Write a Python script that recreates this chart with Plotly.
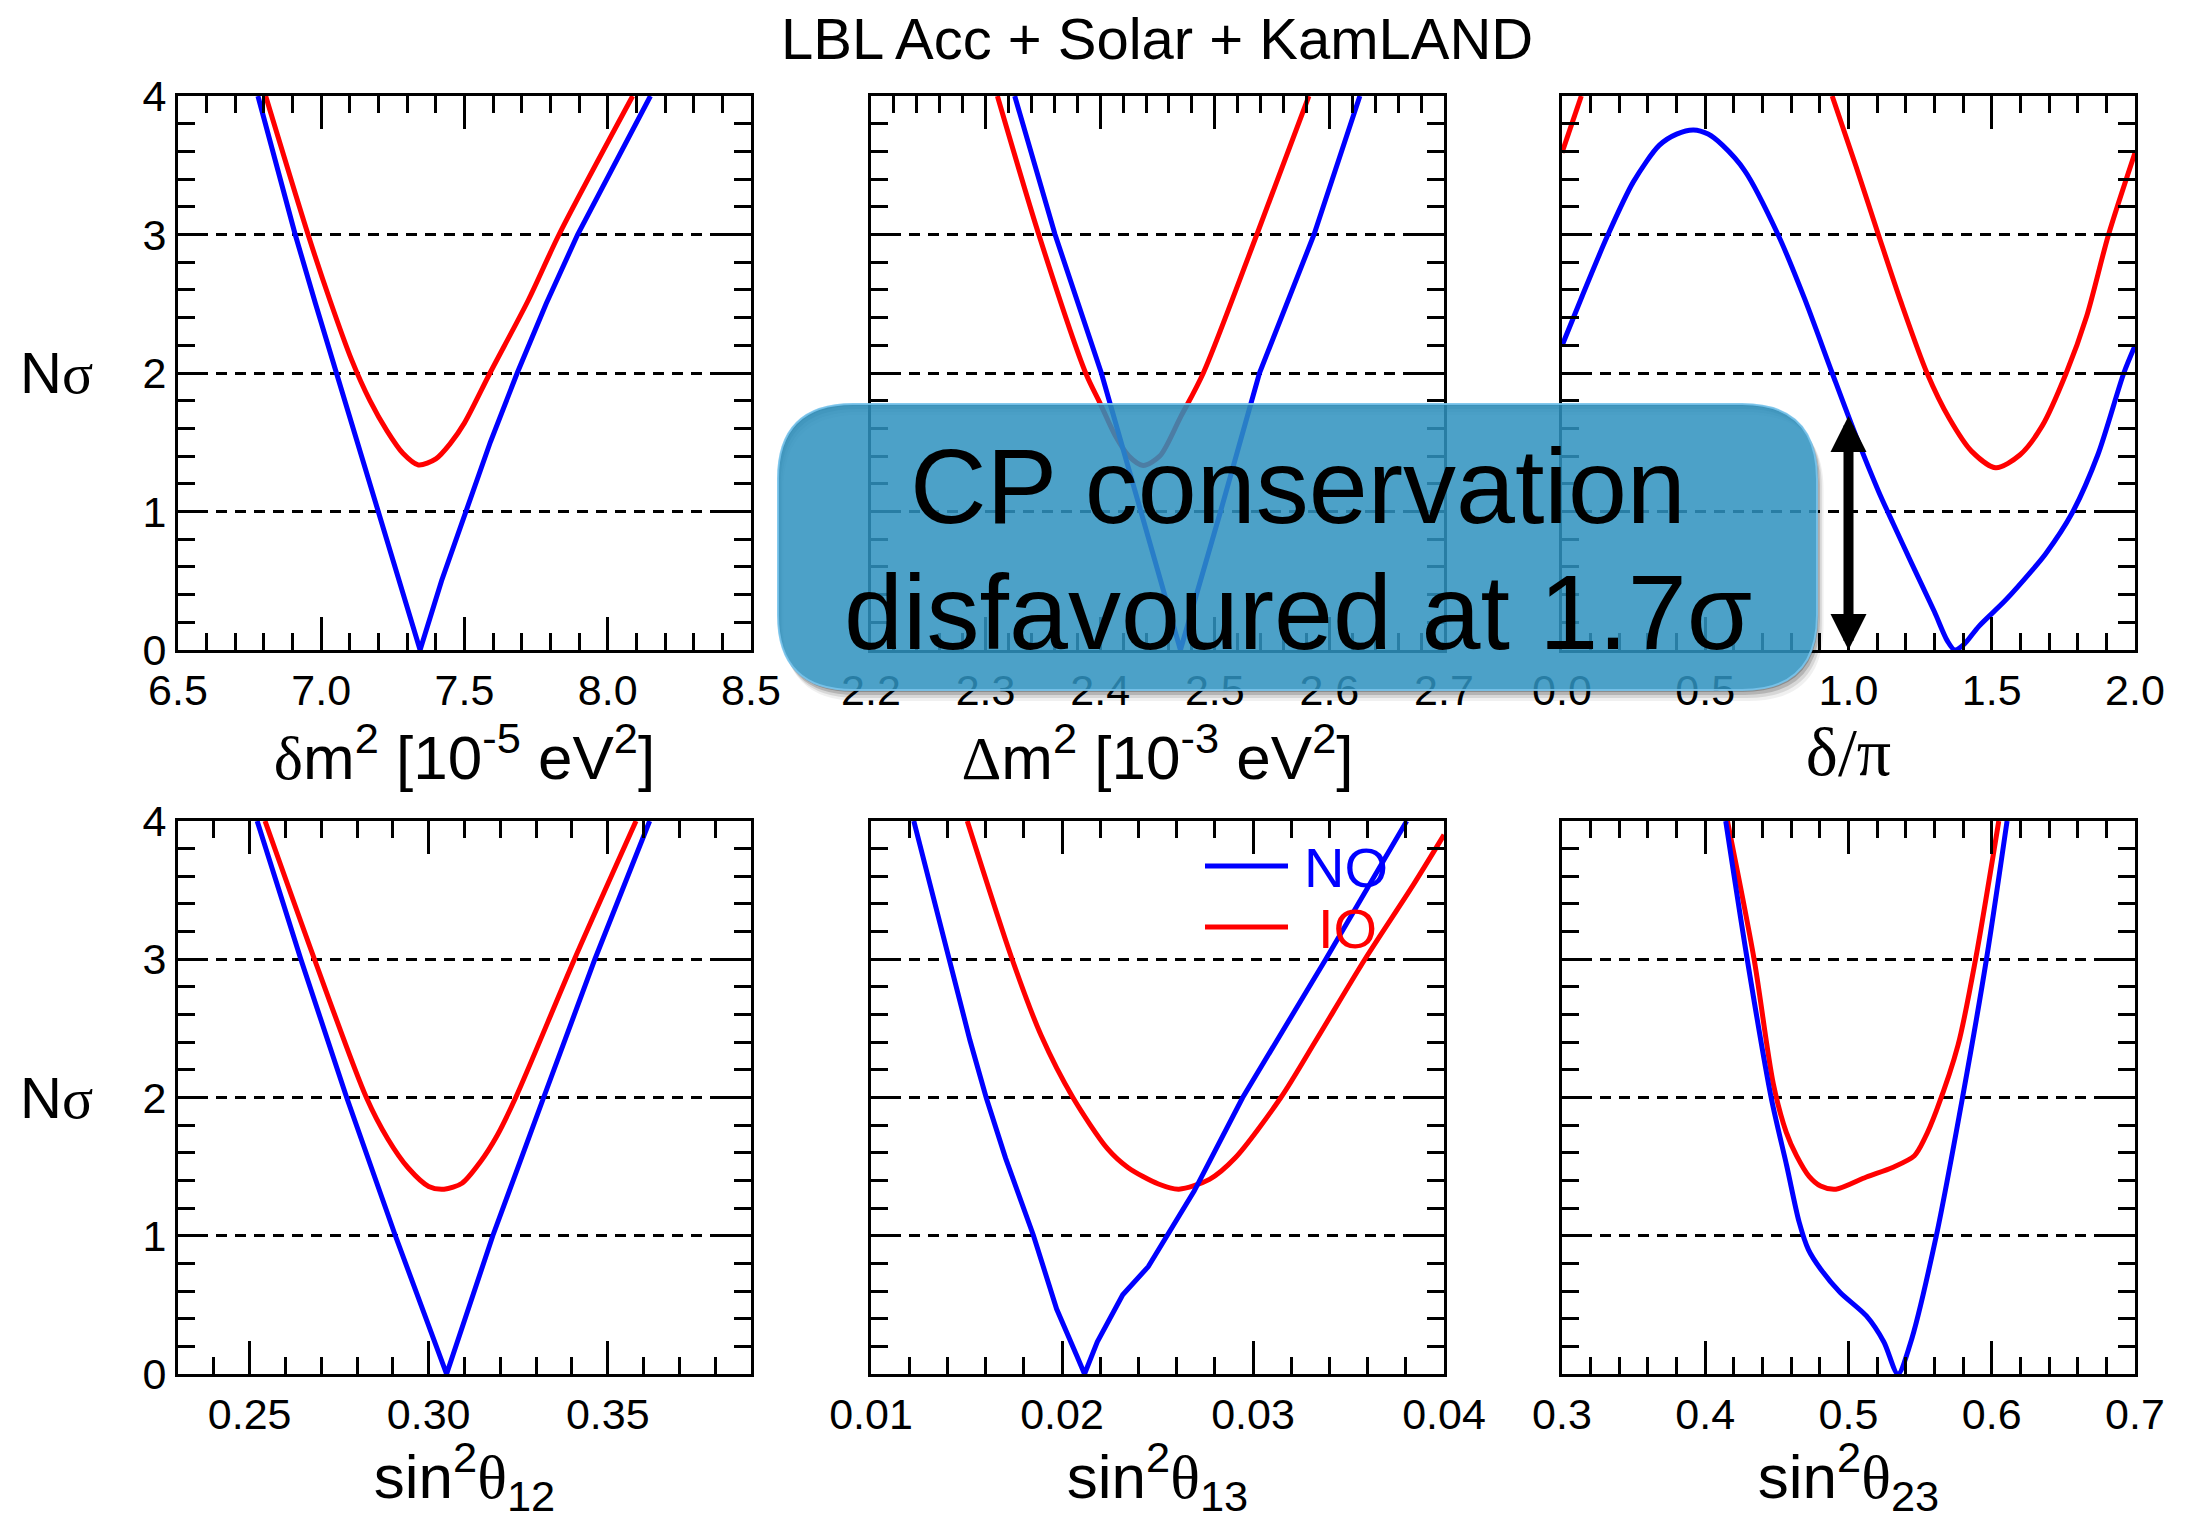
import plotly.graph_objects as go

W, H = 2185, 1520

# ---------------- data ----------------
# delta m^2_21 [1e-5 eV^2]
dm21_no_x = [6.779, 6.845, 6.909, 6.980, 7.053, 7.125, 7.196, 7.270, 7.345, 7.420, 7.504, 7.590, 7.684,
             7.785, 7.895, 8.020, 8.149]
dm21_no_y = [4.0, 3.5, 3.0, 2.5, 2.0, 1.5, 1.0, 0.5, 0.0, 0.5, 1.0, 1.5, 2.0,
             2.5, 3.0, 3.5, 4.0]
dm21_io_x = [6.806, 6.954, 7.030, 7.105, 7.170, 7.230, 7.285, 7.339, 7.400, 7.450, 7.500, 7.589, 7.723,
             7.830, 8.087]
dm21_io_y = [4.0, 3.0, 2.527, 2.1, 1.8, 1.58, 1.42, 1.336, 1.38, 1.49, 1.64, 2.0, 2.527,
             3.0, 4.0]

# Delta m^2 [1e-3 eV^2]
dm31_no_x = [2.3254, 2.3606, 2.401, 2.436, 2.470, 2.505, 2.539, 2.5866, 2.6266]
dm31_no_y = [4.0, 3.0, 2.0, 1.0, 0.0, 1.0, 2.0, 3.0, 4.0]
dm31_io_x = [2.3103, 2.3464, 2.3873, 2.400, 2.413, 2.425, 2.4375, 2.452, 2.470, 2.490, 2.5367, 2.5821]
dm31_io_y = [4.0, 3.0, 2.0, 1.78, 1.55, 1.40, 1.333, 1.40, 1.68, 2.0, 3.0, 4.0]

# delta_CP / pi
dcp_no_x = [0.0, 0.0674, 0.158, 0.249, 0.34, 0.40, 0.459, 0.51, 0.56, 0.638, 0.755, 0.846, 0.943,
            1.027, 1.105, 1.157, 1.222, 1.30, 1.345, 1.371, 1.403, 1.455, 1.546, 1.637, 1.689,
            1.78, 1.87, 1.961, 2.0]
dcp_no_y = [2.197, 2.54, 2.987, 3.38, 3.645, 3.725, 3.755, 3.725, 3.645, 3.46, 2.995, 2.54, 2.0,
            1.54, 1.145, 0.908, 0.618, 0.276, 0.066, 0.0, 0.04, 0.171, 0.355, 0.566, 0.697,
            0.987, 1.408, 2.0, 2.197]
dcp_io_x = [0.0, 0.0674, None, 0.943, 1.027, 1.105, 1.183, 1.274, 1.352, 1.43, 1.514, 1.598,
            1.676, 1.76, 1.831, 1.907, 2.0]
dcp_io_y = [3.59, 4.0, None, 4.0, 3.487, 2.995, 2.513, 2.0, 1.671, 1.434, 1.316, 1.408,
            1.618, 2.0, 2.408, 2.995, 3.59]

# sin^2 theta_12
s12_no_x = [0.2521, 0.2643, 0.2771, 0.2907, 0.305, 0.3179, 0.3321, 0.3464, 0.3617]
s12_no_y = [4.0, 3.0, 2.0, 1.0, 0.0, 1.0, 2.0, 3.0, 4.0]
s12_io_x = [0.2543, 0.2681, 0.2826, 0.2886, 0.2943, 0.300, 0.3043, 0.3093, 0.3143, 0.319, 0.3243, 0.3407, 0.3579]
s12_io_y = [4.0, 3.0, 2.0, 1.70, 1.49, 1.357, 1.337, 1.38, 1.53, 1.72, 2.0, 3.0, 4.0]

# sin^2 theta_13
s13_no_x = [0.01224, 0.01411, 0.01518, 0.01603, 0.01705, 0.01851, 0.01972, 0.02078, 0.02118, 0.02185,
            0.02318, 0.02452, 0.02553, 0.02692, 0.02946, 0.03381, 0.03805]
s13_no_y = [4.0, 3.0, 2.414, 2.0, 1.56, 1.0, 0.47, 0.13, 0.0, 0.232,
            0.573, 0.777, 1.0, 1.323, 2.0, 3.0, 4.0]
s13_io_x = [0.01504, 0.01739, 0.01891, 0.02057, 0.02238, 0.02345, 0.02505, 0.02612, 0.02772, 0.02906,
            0.03146, 0.0333, 0.03586, 0.0384, 0.04]
s13_io_y = [4.0, 3.0, 2.448, 2.0, 1.63, 1.494, 1.374, 1.337, 1.408, 1.562,
            2.0, 2.414, 3.0, 3.54, 3.9]

# sin^2 theta_23
s23_no_x = [0.4143, 0.4293, 0.446, 0.457, 0.4655, 0.472, 0.4805, 0.4942, 0.5125, 0.5247, 0.5345, 0.543,
            0.5613, 0.5796, 0.5963, 0.6107]
s23_no_y = [4.0, 3.0, 2.0, 1.5, 1.1, 0.9, 0.76, 0.59, 0.42, 0.232, 0.0, 0.215,
            1.0, 2.0, 3.0, 4.0]
s23_io_x = [0.4155, 0.4341, 0.4475, 0.4565, 0.4637, 0.4725, 0.4805, 0.4912, 0.5125, 0.5308, 0.546,
            0.553, 0.5613, 0.5765, 0.5887, 0.6049]
s23_io_y = [4.0, 3.0, 2.1, 1.75, 1.58, 1.43, 1.36, 1.337, 1.425, 1.494, 1.579,
            1.70, 1.903, 2.38, 3.0, 4.0]

# CP-conservation significance arrow (delta/pi = 1, from 0 to 1.7 sigma)
cp_delta = 1.0
cp_sigma = 1.7

y_range = [0, 4]

# ---------------- styling ----------------
SANS = "Liberation Sans, Arial, Helvetica, sans-serif"
BLUE = "#0000FF"
RED = "#FF0000"
LW = 5


def g(ch, size=None):
    st = "font-family:Liberation Serif"
    if size:
        st += ";font-size:%dpx" % size
    return "<span style='" + st + "'>" + ch + "</span>"


panels = [
    dict(no=(dm21_no_x, dm21_no_y), io=(dm21_io_x, dm21_io_y), rng=[6.5, 8.5], tick0=6.5, dtick=0.5,
         minor=0.1, fmt=".1f", title=g("δ") + "m<sup>2</sup> [10<sup>-5</sup> eV<sup>2</sup>]",
         shape_no="linear", shape_io="spline"),
    dict(no=(dm31_no_x, dm31_no_y), io=(dm31_io_x, dm31_io_y), rng=[2.2, 2.7], tick0=2.2, dtick=0.1,
         minor=0.02, fmt=".1f", title=g("Δ") + "m<sup>2</sup> [10<sup>-3</sup> eV<sup>2</sup>]",
         shape_no="linear", shape_io="spline"),
    dict(no=(dcp_no_x, dcp_no_y), io=(dcp_io_x, dcp_io_y), rng=[0, 2], tick0=0, dtick=0.5,
         minor=0.1, fmt=".1f", title=g("δ/π", 68), shape_no="spline", shape_io="spline"),
    dict(no=(s12_no_x, s12_no_y), io=(s12_io_x, s12_io_y), rng=[0.23, 0.39], tick0=0.25, dtick=0.05,
         minor=0.01, fmt=".2f", title="sin<sup>2</sup>" + g("θ") + "<sub>12</sub>",
         shape_no="linear", shape_io="spline"),
    dict(no=(s13_no_x, s13_no_y), io=(s13_io_x, s13_io_y), rng=[0.01, 0.04], tick0=0.01, dtick=0.01,
         minor=0.002, fmt=".2f", title="sin<sup>2</sup>" + g("θ") + "<sub>13</sub>",
         shape_no="linear", shape_io="spline"),
    dict(no=(s23_no_x, s23_no_y), io=(s23_io_x, s23_io_y), rng=[0.3, 0.7], tick0=0.3, dtick=0.1,
         minor=0.02, fmt=".1f", title="sin<sup>2</sup>" + g("θ") + "<sub>23</sub>",
         shape_no="spline", shape_io="spline"),
]

col_px = [(178, 751), (871, 1444), (1562, 2135)]
row_px = [(96, 650), (821, 1374)]

fig = go.Figure()
layout = dict(
    width=W, height=H, margin=dict(l=0, r=0, t=0, b=0, pad=0, autoexpand=False),
    paper_bgcolor="white", plot_bgcolor="white", showlegend=False,
    font=dict(family=SANS, color="black"),
)

for i, p in enumerate(panels):
    k = i + 1
    r, c = divmod(i, 3)
    xs = "" if k == 1 else str(k)
    x0, x1 = col_px[c]
    yt, yb = row_px[r]
    for (xx, yy), col, shp in [(p["io"], RED, p["shape_io"]), (p["no"], BLUE, p["shape_no"])]:
        fig.add_trace(go.Scatter(
            x=xx, y=yy, mode="lines", xaxis="x" + xs, yaxis="y" + xs,
            line=dict(color=col, width=LW, shape=shp, smoothing=0.8),
            hoverinfo="skip"))
    layout["xaxis" + xs] = dict(
        domain=[x0 / W, x1 / W], anchor="y" + xs, range=p["rng"], automargin=False,
        tick0=p["tick0"], dtick=p["dtick"], tickformat=p["fmt"],
        ticks="inside", ticklen=33, tickwidth=3, tickcolor="black",
        minor=dict(ticks="inside", ticklen=17, tickwidth=3, tickcolor="black", dtick=p["minor"],
                   tick0=p["tick0"], showgrid=False),
        showline=True, linewidth=3, linecolor="black", mirror="allticks",
        showgrid=False, zeroline=False,
        tickfont=dict(family=SANS, size=43, color="black"),
        title=dict(text=p["title"], font=dict(family=SANS, size=62, color="black"), standoff=12),
    )
    layout["yaxis" + xs] = dict(
        domain=[1 - yb / H, 1 - yt / H], anchor="x" + xs, range=y_range, automargin=False,
        tick0=0, dtick=1, ticks="inside", ticklen=30, tickwidth=3, tickcolor="black",
        minor=dict(ticks="inside", ticklen=17, tickwidth=3, tickcolor="black", dtick=0.2, showgrid=False),
        showline=True, linewidth=3, linecolor="black", mirror="allticks",
        showgrid=True, gridcolor="black", gridwidth=2.8, griddash="11px,8px",
        zeroline=False, showticklabels=(c == 0),
        tickfont=dict(family=SANS, size=43, color="black"),
    )

annotations = []
# main title
annotations.append(dict(text="LBL Acc + Solar + KamLAND", x=1157 / W, y=1 - 38 / H, xref="paper", yref="paper",
                        showarrow=False, xanchor="center", yanchor="middle",
                        font=dict(family=SANS, size=58, color="black")))
# y labels
for yc in [373, 1098]:
    annotations.append(dict(text="N" + g("σ"), x=56 / W, y=1 - yc / H, xref="paper", yref="paper",
                            showarrow=False, xanchor="center", yanchor="middle",
                            font=dict(family=SANS, size=58, color="black")))

# legend (manual, inside bottom-middle panel)
shapes = []
for lab, col, yc, tx in [("NO", BLUE, 866, 1302), ("IO", RED, 927, 1316)]:
    shapes.append(dict(type="line", xref="paper", yref="paper", x0=1205 / W, x1=1288 / W,
                       y0=1 - yc / H, y1=1 - yc / H, line=dict(color=col, width=LW), layer="above"))
    annotations.append(dict(text=lab, x=tx / W, y=1 - (yc + 1) / H, xref="paper", yref="paper",
                            showarrow=False, xanchor="left", yanchor="middle",
                            font=dict(family=SANS, size=56, color=col)))

# rounded call-out box with shadow
bx0, bx1, byt, byb, rad = 778, 1817, 404, 690, 75


def corners(x0, x1, yt, yb, rr):
    X0, X1 = x0 / W, x1 / W
    YT, YB = 1 - yt / H, 1 - yb / H
    rx, ry = rr / W, rr / H
    return X0, X1, YT, YB, rx, ry


def rounded(x0, x1, yt, yb, rr):
    X0, X1, YT, YB, rx, ry = corners(x0, x1, yt, yb, rr)
    return (f"M {X0+rx},{YT} L {X1-rx},{YT} Q {X1},{YT} {X1},{YT-ry} L {X1},{YB+ry} "
            f"Q {X1},{YB} {X1-rx},{YB} L {X0+rx},{YB} Q {X0},{YB} {X0},{YB+ry} "
            f"L {X0},{YT-ry} Q {X0},{YT} {X0+rx},{YT} Z")


def rounded_rev(x0, x1, yt, yb, rr):
    X0, X1, YT, YB, rx, ry = corners(x0, x1, yt, yb, rr)
    return (f"M {X0+rx},{YT} Q {X0},{YT} {X0},{YT-ry} L {X0},{YB+ry} Q {X0},{YB} {X0+rx},{YB} "
            f"L {X1-rx},{YB} Q {X1},{YB} {X1},{YB+ry} L {X1},{YT-ry} Q {X1},{YT} {X1-rx},{YT} Z")


for off, op in [(11, 0.06), (8, 0.10), (5, 0.16), (2, 0.22)]:
    shapes.append(dict(type="path", xref="paper", yref="paper",
                       path=rounded(bx0 + off * 0.5, bx1 + off * 0.6, byt + off, byb + off, rad)
                       + " " + rounded_rev(bx0, bx1, byt, byb, rad),
                       fillcolor=f"rgba(0,0,0,{op})", line=dict(width=0), layer="above"))
shapes.append(dict(type="path", xref="paper", yref="paper", path=rounded(bx0, bx1, byt, byb, rad),
                   fillcolor="rgba(46,145,191,0.86)", line=dict(color="rgba(120,195,235,0.9)", width=2),
                   layer="above"))

annotations.append(dict(text="CP conservation", x=1297.5 / W, y=1 - 486 / H, xref="paper", yref="paper",
                        showarrow=False, xanchor="center", yanchor="middle",
                        font=dict(family=SANS, size=106, color="black")))
annotations.append(dict(text="disfavoured at 1.7σ", x=1297.5 / W, y=1 - 612 / H, xref="paper", yref="paper",
                        showarrow=False, xanchor="center", yanchor="middle",
                        font=dict(family=SANS, size=106, color="black")))

# double arrow at delta = pi
annotations.append(dict(text="", x=cp_delta, y=0, xref="x3", yref="y3",
                        ax=cp_delta, ay=cp_sigma, axref="x3", ayref="y3",
                        showarrow=True, arrowhead=2, startarrowhead=2, arrowside="end+start",
                        arrowwidth=10, arrowsize=0.72, startarrowsize=0.72, arrowcolor="black",
                        standoff=0, startstandoff=0))

layout["annotations"] = annotations
layout["shapes"] = shapes
fig.update_layout(**layout)

fig.write_html("out.html")
